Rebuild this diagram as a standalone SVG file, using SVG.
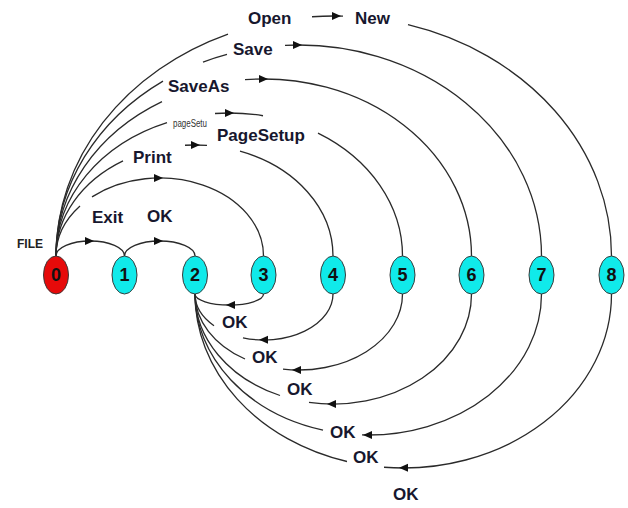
<svg xmlns="http://www.w3.org/2000/svg" xmlns:xlink="http://www.w3.org/1999/xlink" width="628" height="508" viewBox="0 0 628 508">
<defs>
<style>
.c{fill:none;stroke:#2a2a2a;stroke-width:1.3}
.ah{fill:#111}
.lb{font-family:"Liberation Sans",Arial,sans-serif;font-weight:bold;font-size:17px;fill:#17172e}
.sm{font-family:"Liberation Sans Narrow","Liberation Sans",Arial,sans-serif;font-size:10px;fill:#333}
.fl{font-family:"Liberation Sans Narrow","Liberation Sans",Arial,sans-serif;font-weight:bold;font-size:12px;fill:#222}
.nd{fill:#10eaea;stroke:#3a3a3a;stroke-width:1}
.n0{fill:#e60a0a;stroke:#3a3a3a;stroke-width:1}
.nt{font-family:"Liberation Sans Narrow","Liberation Sans",Arial,sans-serif;font-weight:bold;font-size:18px;fill:#111;text-anchor:middle}
</style>
<path id="ah" class="ah" d="M0,0 L-9,-4 L-9,4 Z"/>
</defs>
<rect width="628" height="508" fill="#fff"/>
<g id="connectors">
<!-- upper arcs from 0 -->
<path class="c" d="M56,256 A34.25,15 0 0,1 124.5,256"/>
<path class="c" d="M124.5,256 A35.25,15 0 0,1 195,256"/>
<path class="c" d="M56,256 A103.75,78 0 0,1 80,206.1 M92,196.9 A103.75,78 0 0,1 263.5,256"/>
<path class="c" d="M56,256 A138.5,111 0 0,1 123,160.9 M185,145.26 A138.5,111 0 0,1 207,145.45 M240,151.2 A138.5,111 0 0,1 333,256"/>
<path class="c" d="M56,256 A173.25,143 0 0,1 167,122.55 M215,113.48 A173.25,143 0 0,1 263,115.74 M318,133.19 A173.25,143 0 0,1 402.5,256"/>
<path class="c" d="M56,256 A207.75,177 0 0,1 162,101.68 M245,79.72 A207.75,177 0 0,1 471.5,256"/>
<path class="c" d="M56,256 A242.75,211 0 0,1 163,81.08 M203,62.11 A242.75,211 0 0,1 227,54.43 M285,45.34 A242.75,211 0 0,1 541.5,256"/>
<path class="c" d="M56,256 A277.75,240 0 0,1 228,34.08 M312,16.74 A277.75,240 0 0,1 343,16.13 M408,24.74 A277.75,240 0 0,1 611.5,256"/>
<!-- lower arcs to 2 -->
<path class="c" d="M195,294 A34.25,11 0 0,0 263.5,294"/>
<path class="c" d="M195,294 A69,46 0 0,0 214,325.7 M243,337.82 A69,46 0 0,0 333,294"/>
<path class="c" d="M195,294 A103.75,76 0 0,0 245,359 M283,369.12 A103.75,76 0 0,0 402.5,294"/>
<path class="c" d="M195,294 A138.25,110 0 0,0 280,395.5 M309,402.3 A138.25,110 0 0,0 471.5,294"/>
<path class="c" d="M195,294 A173.25,141 0 0,0 323,430.1 M362,434.9 A173.25,141 0 0,0 541.5,294"/>
<path class="c" d="M195,294 A208.25,174 0 0,0 347,461.5 M384,467.26 A208.25,174 0 0,0 611.5,294"/>
<!-- arrowheads -->
<use xlink:href="#ah" href="#ah" transform="translate(94,241)"/>
<use xlink:href="#ah" href="#ah" transform="translate(163,241)"/>
<use xlink:href="#ah" href="#ah" transform="translate(163,178)"/>
<use xlink:href="#ah" href="#ah" transform="translate(200,145.1)"/>
<use xlink:href="#ah" href="#ah" transform="translate(234,113.1)"/>
<use xlink:href="#ah" href="#ah" transform="translate(268,79.1)"/>
<use xlink:href="#ah" href="#ah" transform="translate(302,45)"/>
<use xlink:href="#ah" href="#ah" transform="translate(341,16.1)"/>
<use xlink:href="#ah" href="#ah" transform="translate(226,305) rotate(180)"/>
<use xlink:href="#ah" href="#ah" transform="translate(259,339.8) rotate(180)"/>
<use xlink:href="#ah" href="#ah" transform="translate(292,369.9) rotate(180)"/>
<use xlink:href="#ah" href="#ah" transform="translate(327,403.9) rotate(180)"/>
<use xlink:href="#ah" href="#ah" transform="translate(363,434.9) rotate(180)"/>
<use xlink:href="#ah" href="#ah" transform="translate(399,467.8) rotate(180)"/>
</g>
<g id="labels">
<text class="lb" x="248" y="24">Open</text>
<text class="lb" x="355" y="24">New</text>
<text class="lb" x="233" y="55">Save</text>
<text class="lb" x="168" y="92">SaveAs</text>
<text class="sm" x="173" y="127" textLength="34" lengthAdjust="spacingAndGlyphs">pageSetu</text>
<text class="lb" x="217" y="141">PageSetup</text>
<text class="lb" x="133" y="163">Print</text>
<text class="lb" x="92" y="223">Exit</text>
<text class="lb" x="147" y="222">OK</text>
<text class="fl" x="17" y="248">FILE</text>
<text class="lb" x="222" y="328">OK</text>
<text class="lb" x="252" y="363">OK</text>
<text class="lb" x="287" y="395">OK</text>
<text class="lb" x="330" y="438">OK</text>
<text class="lb" x="353" y="463">OK</text>
<text class="lb" x="393" y="500">OK</text>
</g>
<g id="node0"><ellipse class="n0" cx="56" cy="275" rx="12.5" ry="19"/><text class="nt" x="56" y="281">0</text></g>
<g id="node1"><ellipse class="nd" cx="124.5" cy="275" rx="12.5" ry="19"/><text class="nt" x="124.5" y="281">1</text></g>
<g id="node2"><ellipse class="nd" cx="195" cy="275" rx="12.5" ry="19"/><text class="nt" x="195" y="281">2</text></g>
<g id="node3"><ellipse class="nd" cx="263.5" cy="275" rx="12.5" ry="19"/><text class="nt" x="263.5" y="281">3</text></g>
<g id="node4"><ellipse class="nd" cx="333" cy="275" rx="12.5" ry="19"/><text class="nt" x="333" y="281">4</text></g>
<g id="node5"><ellipse class="nd" cx="402.5" cy="275" rx="12.5" ry="19"/><text class="nt" x="402.5" y="281">5</text></g>
<g id="node6"><ellipse class="nd" cx="471.5" cy="275" rx="12.5" ry="19"/><text class="nt" x="471.5" y="281">6</text></g>
<g id="node7"><ellipse class="nd" cx="541.5" cy="275" rx="12.5" ry="19"/><text class="nt" x="541.5" y="281">7</text></g>
<g id="node8"><ellipse class="nd" cx="611.5" cy="275" rx="12.5" ry="19"/><text class="nt" x="611.5" y="281">8</text></g>
</svg>
